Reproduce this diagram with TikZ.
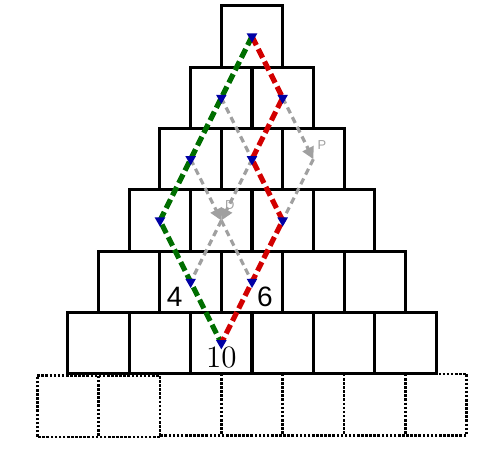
\documentclass[tikz,border=0pt]{standalone}
\usepackage{tikz}
\usepackage{xcolor}
\usepackage{fontspec}
\usetikzlibrary{arrows.meta, shapes.geometric, positioning}

\newfontfamily\plainsans{Liberation Sans}

\definecolor{leftgreen}{RGB}{0,110,0}
\definecolor{rightred}{RGB}{210,0,0}
\definecolor{stopblue}{RGB}{0,0,165}
\definecolor{hopgray}{RGB}{160,160,160}

\begin{document}
\begin{tikzpicture}[x=1cm, y=1cm,
    box/.style={line width=1.4pt},
    ghost/.style={line width=1.2pt, dash pattern=on 1.2pt off 0.7pt},
    route/.style={line width=2.4pt, dash pattern=on 4.5pt off 2pt},
    hop/.style={line width=1.5pt, hopgray, dash pattern=on 3pt off 2pt},
    hoptip/.style={hop, -{Triangle[length=5.5pt, width=5.5pt]}},
    vtx/.style={regular polygon, regular polygon sides=3, shape border rotate=180,
        fill=stopblue, inner sep=0pt, minimum size=0.2cm},
    tag/.style={font=\plainsans\fontsize{6}{7}\selectfont, text=hopgray, inner sep=0pt},
    count/.style={font=\plainsans\fontsize{13}{15}\selectfont}]
                        \useasboundingbox (-4.108, 0.595) rectangle (3.994, -6.724);

                        % cell centres
                        \coordinate (a) at (0, 0);
                        \coordinate (b1) at (-0.5, -1);
                        \coordinate (b2) at (0.5, -1);
                        \coordinate (c1) at (-1, -2);
                        \coordinate (c2) at (0, -2);
                        \coordinate (c3) at (1, -2);
                        \coordinate (d1) at (-1.5, -3);
                        \coordinate (d2) at (-0.5, -3);
                        \coordinate (d3) at (0.5, -3);
                        \coordinate (e2) at (-1, -4);
                        \coordinate (e3) at (0, -4);
                        \coordinate (f3) at (-0.5, -5);

                        \draw[box]
                        (-0.5, 0.5) -- (0.5, 0.5) -- (0.5, -0.5) -- (-0.5, -0.5) -- cycle
                        (-1, -0.5) -- (1, -0.5) -- (1, -1.5) -- (-1, -1.5) -- cycle
                        (0, -0.5) -- (0, -1.5)
                        (-1.5, -1.5) -- (1.5, -1.5) -- (1.5, -2.5) -- (-1.5, -2.5) -- cycle
                        (-0.5, -1.5) -- (-0.5, -2.5)
                        (0.5, -1.5) -- (0.5, -2.5)
                        (-2, -2.5) -- (2, -2.5) -- (2, -3.5) -- (-2, -3.5) -- cycle
                        (-1, -2.5) -- (-1, -3.5)
                        (0, -2.5) -- (0, -3.5)
                        (1, -2.5) -- (1, -3.5)
                        (-2.5, -3.5) -- (2.5, -3.5) -- (2.5, -4.5) -- (-2.5, -4.5) -- cycle
                        (-1.5, -3.5) -- (-1.5, -4.5)
                        (-0.5, -3.5) -- (-0.5, -4.5)
                        (0.5, -3.5) -- (0.5, -4.5)
                        (1.5, -3.5) -- (1.5, -4.5)
                        (-3, -4.5) -- (3, -4.5) -- (3, -5.5) -- (-3, -5.5) -- cycle
                        (-2, -4.5) -- (-2, -5.5)
                        (-1, -4.5) -- (-1, -5.5)
                        (0, -4.5) -- (0, -5.5)
                        (1, -4.5) -- (1, -5.5)
                        (2, -4.5) -- (2, -5.5);

                        % row below, dotted
                        \draw[ghost]
                        (-3.5, -5.53) -- (-1.5, -5.53) -- (-1.5, -6.53) -- (-3.5, -6.53) -- cycle
                        (-2.5, -5.53) -- (-2.5, -6.53)
                        (-1.5, -5.5) -- (3.5, -5.5) -- (3.5, -6.5) -- (-1.5, -6.5)
                        (-0.5, -5.5) -- (-0.5, -6.5)
                        (0.5, -5.5) -- (0.5, -6.5)
                        (1.5, -5.5) -- (1.5, -6.5)
                        (2.5, -5.5) -- (2.5, -6.5);

                        \draw[hop] (b1) -- (c2);
                        \draw[hoptip] (b2) -- (c3);
                        \draw[hoptip] (c1) -- (d2);
                        \draw[hoptip] (c2) -- (d2);
                        \draw[hop] (d2) -- (e2);
                        \draw[hop] (d2) -- (e3);
                        \draw[hop] (c3) -- (d3);

                        \node[tag] (p) at (1.14, -1.77) {P};
                        \node[tag] (dd) at (-0.36, -2.75) {D};

                        \draw[route, leftgreen] (a) -- (d1) -- (f3);
                        \draw[route, rightred] (a) -- (b2) -- (c2) -- (d3) -- (f3);

                        \node[vtx] at (a) {};
                        \node[vtx] at (b1) {};
                        \node[vtx] at (b2) {};
                        \node[vtx] at (c1) {};
                        \node[vtx] at (c2) {};
                        \node[vtx] at (d1) {};
                        \node[vtx] at (d3) {};
                        \node[vtx] at (e2) {};
                        \node[vtx] at (e3) {};
                        \node[vtx] at (f3) {};

                        \node[count] (four) at (-1.26, -4.24) {4};
                        \node[count] (six) at (0.21, -4.24) {6};
                        \node[font=\Large] (ten) at (-0.5, -5.24) {10};
                    \end{tikzpicture}
\end{document}
